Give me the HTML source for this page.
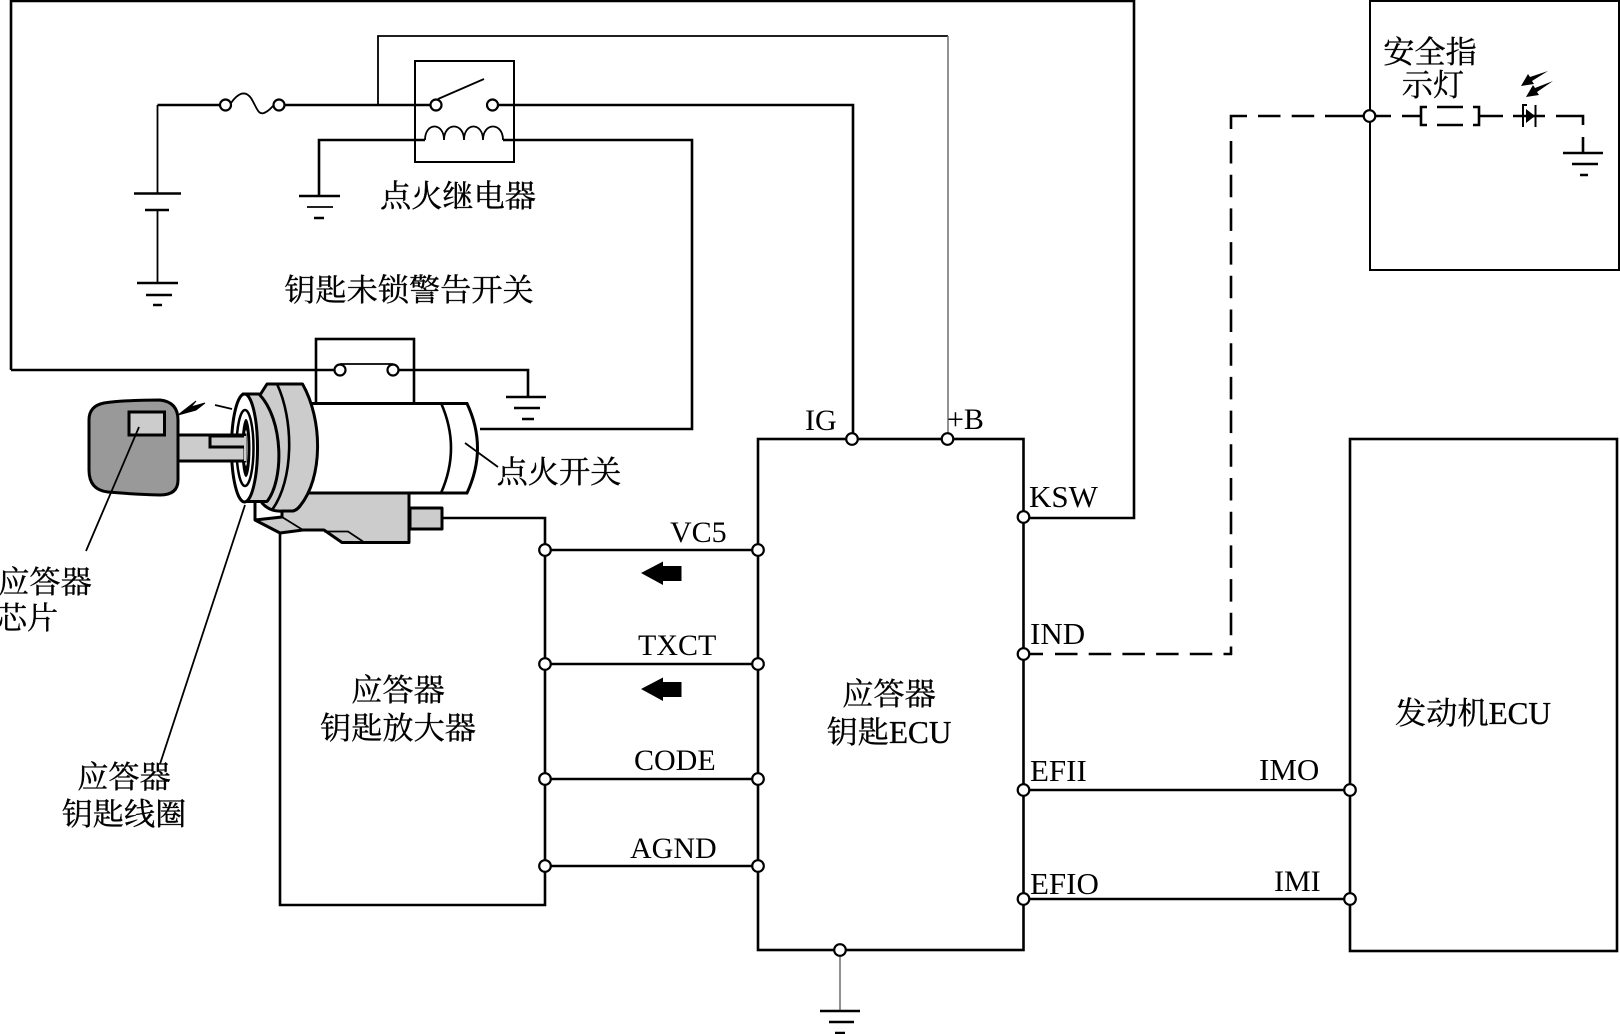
<!DOCTYPE html>
<html><head><meta charset="utf-8"><style>
html,body{margin:0;padding:0;background:#fff;width:1620px;height:1034px;overflow:hidden}
svg{display:block}
.w{fill:none;stroke:#000;stroke-width:2.6}
.t{fill:none;stroke:#000;stroke-width:1.8}
.g{fill:none;stroke:#777;stroke-width:1.6}
.c{fill:#fff;stroke:#000;stroke-width:2.2}
.b{fill:#ccc;stroke:#000;stroke-width:3;stroke-linejoin:round}
.d{fill:none;stroke:#000;stroke-width:2.6;stroke-dasharray:22.5 11.2}
text{fill:#000}
.cn{font-family:"Liberation Serif","Noto Serif CJK SC",serif;font-size:31.2px;text-anchor:middle;stroke:#000;stroke-width:.35}
.en{font-family:"Liberation Serif",serif;font-size:30px}
</style></head><body>
<svg width="1620" height="1034" viewBox="0 0 1620 1034" xmlns="http://www.w3.org/2000/svg">
<!-- outer wires -->
<path class="w" d="M11,370V1H1134V518H1024"/>
<path class="w" d="M11,370H340M393,370H528V397"/>
<path class="w" d="M506,397H546M514,408H540M522,419H534"/>
<path class="w" d="M157.500,105H220M285,105H431"/>
<path class="t" d="M157.500,105V193M157.500,210V283"/>
<path class="w" d="M134,193.500H181M145,210H169M137,283H178M146,295H172M153,305H162"/>
<!-- fuse -->
<path class="t" d="M231,103C238,93 245,90 251,98C257,108 258,115 264,113C269,111 270,109 273,106"/>
<circle class="c" cx="225.500" cy="105" r="5.500"/><circle class="c" cx="279" cy="105" r="5.500"/>
<!-- relay -->
<path class="t" d="M378,105V36H948"/><path class="g" d="M948,36V439"/>
<rect x="415" y="61" width="99" height="101" fill="none" stroke="#000" stroke-width="2"/>
<path class="t" d="M438,99L484,79"/>
<circle class="c" cx="436" cy="105" r="5.500"/><circle class="c" cx="492.500" cy="105" r="5.500"/>
<path class="w" d="M498,105H853V439"/>
<path class="t" d="M425,140C425,122 444,122 444,140C444,122 464,122 464,140C464,122 483,122 483,140C483,122 503,122 503,140"/>
<path class="w" d="M425,140H319V196M503,140H692V429H480"/>
<path class="w" d="M299,196H340M314,218H324"/><path class="t" d="M307,207H333"/>
<!-- ignition switch -->
<rect x="316" y="339" width="98" height="70" fill="none" stroke="#000" stroke-width="2.600"/>
<path class="t" d="M340,364H393"/>
<circle class="c" cx="340" cy="370" r="5.500"/><circle class="c" cx="393" cy="370" r="5.500"/>
<path d="M290,403.500H467Q488,448 467,493H290Z" fill="#fff" stroke="#000" stroke-width="3"/>
<path class="w" d="M441,403Q461,448 441,493"/>
<!-- bracket -->
<rect class="b" x="410" y="508" width="32" height="21"/>
<path class="b" d="M255,480V520L280,533L303,530H324L342,542.500H409V493H290L282,500V517L255,520"/>
<path class="t" d="M255,520L282,517L303,530"/>
<path class="t" d="M324,531.500H348L363,541.500"/>
<path class="w" d="M442,518H545V905H280V533"/>
<!-- rings -->
<path class="b" d="M260,395L267,384H302.500C323,420 323,478 300,506Q297,510 293,511H282Q270,512 262,503Z"/>
<path d="M300,506Q297,510 293,511" fill="none" stroke="#000" stroke-width="3"/>
<path class="w" d="M277,384C294,420 294,480 272,510"/>
<path class="b" d="M243,394H259C284,420 284,480 267,501.500H247Z"/>
<!-- key -->
<path d="M104,403Q125,400 160,400Q178,402 178,420V480Q178,495 160,495Q130,494 108,492Q89,490 89,470V420Q89,406 104,403Z" fill="#999" stroke="#000" stroke-width="3"/>
<rect x="129" y="412" width="35.500" height="23" fill="#ccc" stroke="#000" stroke-width="3"/>
<ellipse cx="244.500" cy="448" rx="13" ry="54" fill="#fff" stroke="#000" stroke-width="3"/>
<ellipse cx="245" cy="448" rx="8.500" ry="38" fill="none" stroke="#000" stroke-width="2.500"/>
<ellipse cx="246" cy="448" rx="4.500" ry="29" fill="#000" stroke="none"/>
<ellipse cx="246" cy="448" rx="1.500" ry="18" fill="#fff" stroke="none"/>
<rect x="178" y="435" width="67" height="26" fill="#ccc" stroke="#000" stroke-width="3"/>
<path d="M245,436H210V447H245" fill="#ccc" stroke="#000" stroke-width="3"/>
<path d="M245,436V461" stroke="#ccc" stroke-width="2"/>
<path class="t" d="M139,427L86,551M245,505L160,764M465,443L498,467"/>
<path d="M178,415L196,401L191,407L205,403L196,410Z" fill="#000" stroke="#000"/>
<path class="t" d="M215,405L232,409"/>
<!-- ECU -->
<rect x="758" y="439" width="265.500" height="511" fill="none" stroke="#000" stroke-width="2.600"/>
<rect x="1350" y="439" width="267" height="512" fill="none" stroke="#000" stroke-width="2.600"/>
<path class="w" d="M545,550H758M545,664H758M545,779H758M545,866H758M1024,790H1350M1024,899H1350"/>
<!-- dashed signal -->
<path class="w" d="M1024,654H1043M1231,129V116H1247M1325,116H1364"/>
<path class="d" d="M1055,654H1232"/>
<path class="d" d="M1231,141V655"/>
<path class="d" d="M1258,116H1320"/>
<path d="M641,573L663,561.500V566H681.500V581H663V585Z" fill="#000"/>
<path d="M641,689L663,677.500V682H681.500V697H663V701Z" fill="#000"/>
<path class="g" d="M840,950V1011"/>
<path class="w" d="M820,1011H860M829,1022H854M835,1033H845"/>
<!-- safety lamp -->
<rect x="1370" y="1" width="249" height="269" fill="none" stroke="#000" stroke-width="2"/>
<path class="w" d="M1376,116H1391M1402,116H1421M1427,107H1421V125H1427M1437,107H1463M1437,125H1463M1473,107H1479V125H1473M1479,116H1503M1513,116H1545M1556,116H1583V125M1583,137V153"/>
<path class="w" d="M1563,153H1603M1572,164H1598M1580,175H1588"/>
<path d="M1527,105H1523V127" fill="none" stroke="#000" stroke-width="2"/><path d="M1535.500,105V127" fill="none" stroke="#000" stroke-width="2"/>
<path d="M1535,116L1526,109V123Z" fill="#000"/>
<path d="M1521,86L1528,74L1530,77L1548,71L1532,81L1534,84Z" fill="#000"/>
<path d="M1526,97L1533,85L1535,88L1553,81L1537,92L1539,95Z" fill="#000"/>
<!-- nodes -->
<g class="c">
<circle cx="545" cy="550" r="5.800"/><circle cx="545" cy="664" r="5.800"/><circle cx="545" cy="779" r="5.800"/><circle cx="545" cy="866" r="5.800"/>
<circle cx="758" cy="550" r="5.800"/><circle cx="758" cy="664" r="5.800"/><circle cx="758" cy="779" r="5.800"/><circle cx="758" cy="866" r="5.800"/>
<circle cx="852" cy="439" r="5.800"/><circle cx="947.500" cy="439" r="5.800"/>
<circle cx="1023.500" cy="517" r="5.800"/><circle cx="1023.500" cy="654" r="5.800"/><circle cx="1023.500" cy="790" r="5.800"/><circle cx="1023.500" cy="899" r="5.800"/>
<circle cx="1350" cy="790" r="5.800"/><circle cx="1350" cy="899" r="5.800"/>
<circle cx="840" cy="950" r="5.800"/><circle cx="1369.500" cy="116" r="5.800"/>
</g>
<!-- labels -->
<g class="cn">
<text x="458" y="207">点火继电器</text>
<text x="409" y="301">钥匙未锁警告开关</text>
<text x="1430" y="63">安全指</text>
<text x="1433" y="96">示灯</text>
<text x="559" y="483">点火开关</text>
<text x="45" y="593">应答器</text>
<text x="27" y="629">芯片</text>
<text x="124" y="788">应答器</text>
<text x="124" y="825">钥匙线圈</text>
<text x="398" y="701">应答器</text>
<text x="398" y="739">钥匙放大器</text>
<text x="889" y="705">应答器</text>
<text x="889" y="743">钥匙ECU</text>
<text x="1473" y="724">发动机ECU</text>
</g>
<g class="en">
<text x="805" y="430">IG</text>
<text x="947" y="429">+B</text>
<text x="1029" y="507" font-size="31">KSW</text>
<text x="1030" y="644" font-size="31">IND</text>
<text x="670" y="542">VC5</text>
<text x="638" y="655">TXCT</text>
<text x="634" y="770">CODE</text>
<text x="630" y="858">AGND</text>
<text x="1030" y="781" font-size="31">EFII</text>
<text x="1030" y="894" font-size="31">EFIO</text>
<text x="1259" y="780" font-size="31">IMO</text>
<text x="1274" y="891">IMI</text>
</g>
</svg>
</body></html>
